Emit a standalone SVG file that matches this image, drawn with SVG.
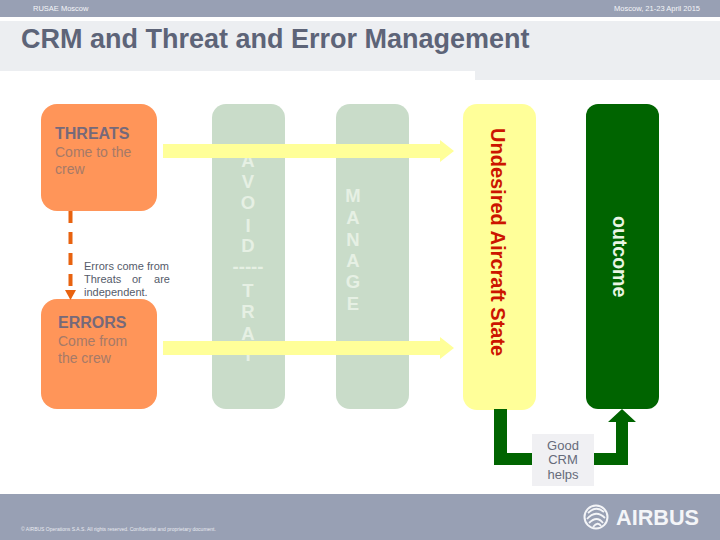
<svg xmlns="http://www.w3.org/2000/svg" width="720" height="540" viewBox="0 0 720 540">
<style>
text{font-family:"Liberation Sans",Arial,sans-serif}
.bar{fill:#98a0b4}
.band{fill:#eceef1}
.hdr{font-size:7.500px;fill:#f4f5f8}
.orange{fill:#ff9559}
.pale{fill:#c9dcc9}
.head{font-size:16px;font-weight:bold;fill:#76697a}
.sub{font-size:14px;fill:#a67a68}
.note{font-size:11px;fill:#555b6a}
.ltr{font-size:18.500px;font-weight:bold;fill:#e6f0e4;text-anchor:middle}
.flow{fill:#ffff99}
.gfill{fill:#006400}
.crm{font-size:13px;fill:#666b7a;text-anchor:middle}
</style>
<rect class="bar" x="0" y="0" width="720" height="17"/>
<rect class="band" x="0" y="21" width="720" height="50"/>
<rect class="band" x="475" y="71" width="245" height="9"/>
<text class="hdr" x="33" y="11">RUSAE Moscow</text>
<text class="hdr" x="700" y="11" text-anchor="end">Moscow, 21-23 April 2015</text>
<text x="21" y="48" font-size="27" font-weight="bold" fill="#5d6478">CRM and Threat and Error Management</text>

<g id="threats">
<rect class="orange" x="41" y="104" width="116" height="107" rx="16"/>
<text class="head" x="55" y="139">THREATS</text>
<text class="sub" x="55" y="157">Come to the</text>
<text class="sub" x="55" y="174">crew</text>
</g>
<g id="errors">
<rect class="orange" x="41" y="299" width="116" height="110" rx="16"/>
<text class="head" x="58" y="328">ERRORS</text>
<text class="sub" x="58" y="346">Come from</text>
<text class="sub" x="58" y="363">the crew</text>
</g>
<g id="note">
<text class="note" x="84" y="270">Errors come from</text>
<text class="note" x="84" y="283">Threats</text>
<text class="note" x="132" y="283">or</text>
<text class="note" x="170" y="283" text-anchor="end">are</text>
<text class="note" x="84" y="296">independent.</text>
</g>
<g id="avoid">
<rect class="pale" x="212" y="104" width="73" height="305" rx="14"/>
<text class="ltr" x="248" y="167">A</text>
<text class="ltr" x="248" y="188">V</text>
<text class="ltr" x="248" y="209">O</text>
<text class="ltr" x="248" y="232">I</text>
<text class="ltr" x="248" y="252">D</text>
<text class="ltr" x="248" y="273" textLength="31" lengthAdjust="spacingAndGlyphs">-----</text>
<text class="ltr" x="248" y="297">T</text>
<text class="ltr" x="248" y="318">R</text>
<text class="ltr" x="248" y="340">A</text>
<text class="ltr" x="248" y="361">I</text>
</g>
<g id="manage">
<rect class="pale" x="336" y="104" width="73" height="305" rx="14"/>
<text class="ltr" x="353" y="202">M</text>
<text class="ltr" x="353" y="224">A</text>
<text class="ltr" x="353" y="246">N</text>
<text class="ltr" x="353" y="267">A</text>
<text class="ltr" x="353" y="288">G</text>
<text class="ltr" x="353" y="310">E</text>
</g>
<g id="undesired">
<rect x="463" y="104" width="73" height="306" rx="14" fill="#ffff99"/>
<text transform="translate(491,128) rotate(90)" font-size="20" font-weight="bold" fill="#cc1500">Undesired Aircraft State</text>
</g>
<g id="outcome">
<rect class="gfill" x="586" y="104" width="73" height="305" rx="12"/>
<text transform="translate(613,216) rotate(90)" font-size="19.500" font-weight="bold" fill="#eaf5e4">outcome</text>
</g>
<g id="connectors">
<polygon class="flow" points="163,144 440,144 440,140 454,151 440,162 440,158 163,158"/>
<polygon class="flow" points="163,341 440,341 440,337 454,348 440,359 440,355 163,355"/>
<path d="M70.500 211V292" fill="none" stroke="#e8620f" stroke-width="4" stroke-dasharray="12 9"/>
<polygon points="65,290 76,290 70.500,300" fill="#e8620f"/>
<polygon class="gfill" points="494,409 507,409 507,453 616,453 616,422 608,422 622,409 636,422 628,422 628,465 494,465"/>
</g>
<g id="crm">
<rect x="532" y="434" width="62" height="52" fill="#f0f0f3"/>
<text class="crm" x="563" y="450">Good</text>
<text class="crm" x="563" y="464">CRM</text>
<text class="crm" x="563" y="479">helps</text>
</g>
<rect class="bar" x="0" y="494" width="720" height="46"/>
<text x="21" y="531" font-size="5" fill="#e8eaf0">© AIRBUS Operations S.A.S. All rights reserved. Confidential and proprietary document.</text>
<g id="logo" fill="none" stroke="#f4f5f8">
<circle cx="596" cy="517" r="11.500" stroke-width="2"/>
<path d="M588 513Q596 505 604 512M587 519Q596 509 605 518M589 523Q597 515 603 523M593 527Q598 521 601 526" stroke-width="1.800"/>
<text x="616" y="525" font-size="22" font-weight="bold" fill="#f4f5f8" stroke="none" textLength="83" lengthAdjust="spacingAndGlyphs">AIRBUS</text>
</g>
</svg>
